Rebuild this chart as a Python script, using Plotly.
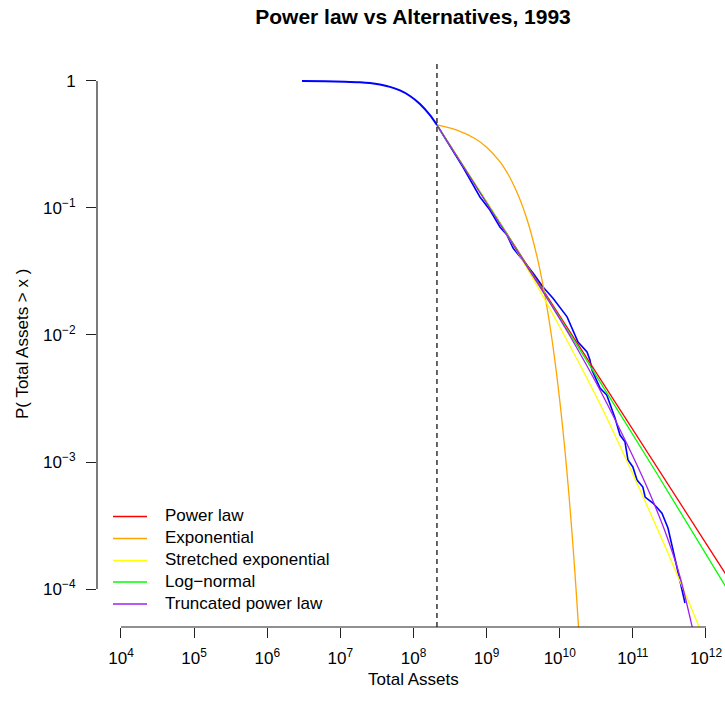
import plotly.graph_objects as go

# ---- empirical CCDF of total assets (body below x_min, tail above) ----
body_assets = [2.99e6, 6.17e6, 1.157e7, 1.855e7, 2.54e7, 3.48e7, 4.77e7, 6.54e7, 8.96e7, 1.227e8, 1.682e8, 2.094e8]
body_prob = [1.0, 0.9946, 0.9874, 0.9767, 0.9626, 0.9368, 0.8987, 0.8417, 0.7618, 0.6590, 0.5378, 0.4502]

tail_assets = [2.094e8, 4.75e8, 8.11e8, 1.11e9, 1.52e9, 1.90e9, 2.30e9, 3.14e9, 4.31e9, 5.90e9,
               8.09e9, 1.26e10, 1.78e10, 2.36e10, 2.59e10, 2.76e10, 3.03e10, 3.55e10, 4.39e10,
               5.70e10, 6.67e10, 7.80e10, 8.57e10, 1.00e11, 1.14e11, 1.37e11, 1.47e11, 1.88e11,
               2.50e11, 3.02e11, 3.54e11, 4.41e11, 5.16e11]
tail_prob = [0.4502, 0.210, 0.122, 0.0964, 0.0708, 0.0612, 0.0484, 0.0390, 0.0308, 0.0239,
             0.0195, 0.0139, 0.00881, 0.00735, 0.00635, 0.00530, 0.00467, 0.00383, 0.00337,
             0.00222, 0.00163, 0.00144, 0.00104, 0.000914, 0.000721, 0.000635, 0.000530, 0.000475,
             0.000396, 0.000302, 0.000203, 0.000118, 0.0000776]

x_min = 2.094e8

# ---- fitted tail models ----
power_assets = [2.094e8, 2.0e12]
power_prob = [0.4502, 0.000123]

expo_assets = [2.094e8, 4.0e8, 7.0e8, 1.0e9, 1.5e9, 2.0e9, 2.5e9, 3.0e9, 3.5e9, 4.0e9, 5.0e9,
               6.0e9, 7.0e9, 8.0e9, 9.0e9, 1.0e10, 1.1e10, 1.2e10, 1.3e10, 1.4e10, 1.5e10,
               1.6e10, 1.7e10, 1.8e10, 1.9e10]
expo_prob = [0.4502, 0.409, 0.351, 0.301, 0.2335, 0.181, 0.140, 0.1087, 0.0842, 0.0653, 0.0392,
             0.02354, 0.01413, 0.00849, 0.00510, 0.00306, 0.001838, 0.001103, 0.000662, 0.000398,
             0.0002388, 0.0001434, 0.0000861, 0.0000517, 0.0000310]

stretched_assets = [2.094e8, 1.11e9, 3.14e9, 8.09e9, 3.55e10, 1.00e11, 2.93e11, 8.28e11, 9.77e11]
stretched_prob = [0.4502, 0.102, 0.0381, 0.0145, 0.00286, 0.000804, 0.000200, 0.0000486, 0.0000387]

lognormal_assets = [2.094e8, 2.0e9, 2.0e10, 2.0e11, 2.0e12]
lognormal_prob = [0.4502, 0.0592, 0.00726, 0.000861, 0.0000977]

trunc_assets = [2.094e8, 1.52e9, 5.37e9, 1.38e10, 3.55e10, 1.00e11, 1.71e11, 2.93e11, 4.41e11, 6.44e11, 7.0e11]
trunc_prob = [0.4502, 0.0748, 0.0239, 0.00982, 0.00369, 0.00111, 0.000562, 0.000258, 0.000125, 0.0000511, 0.0000410]

legend_labels = ["Power law", "Exponential", "Stretched exponential", "Log\u2212normal", "Truncated power law"]
legend_colors = ["#FF0000", "#FFA500", "#FFFF00", "#00FF00", "#A020F0"]

x_tick_vals = [1e4, 1e5, 1e6, 1e7, 1e8, 1e9, 1e10, 1e11, 1e12]
x_tick_text = ["10<sup>%d</sup>" % k for k in range(4, 13)]
y_tick_vals = [1, 1e-1, 1e-2, 1e-3, 1e-4]
y_tick_text = ["1", "10<sup>\u22121</sup>", "10<sup>\u22122</sup>", "10<sup>\u22123</sup>", "10<sup>\u22124</sup>"]

# ---- page geometry ----
W, H = 725, 715
ML, MR, MT, MB = 97, 0, 60, 88
PW, PH = W - ML - MR, H - MT - MB
FONT = "Liberation Sans, Arial, Helvetica, sans-serif"
FS = 17


def px_x(px):
    return (px - ML) / PW


def px_y(py):
    return (H - MB - py) / PH


fig = go.Figure()

fig.add_trace(go.Scatter(x=body_assets, y=body_prob, mode="lines",
                         line=dict(color="#0000FF", width=2, shape="spline", smoothing=0.6),
                         showlegend=False))
fig.add_trace(go.Scatter(x=tail_assets, y=tail_prob, mode="lines",
                         line=dict(color="#0000FF", width=1.6), showlegend=False))

model_series = [
    (power_assets, power_prob, "linear"),
    (expo_assets, expo_prob, "spline"),
    (stretched_assets, stretched_prob, "spline"),
    (lognormal_assets, lognormal_prob, "spline"),
    (trunc_assets, trunc_prob, "spline"),
]
for (xs, ys, shape), name, col in zip(model_series, legend_labels, legend_colors):
    fig.add_trace(go.Scatter(x=xs, y=ys, mode="lines", name=name,
                             line=dict(color=col, width=1.3, shape=shape, smoothing=0.6),
                             showlegend=False))

shapes = []
# vertical dashed line at x_min
shapes.append(dict(type="line", xref="x", yref="paper", x0=x_min, x1=x_min, y0=0, y1=1,
                   line=dict(color="black", width=1.2, dash="5px,4px")))
# axis lines spanning first to last tick
shapes.append(dict(type="line", xref="x", yref="paper", x0=x_tick_vals[0], x1=x_tick_vals[-1],
                   y0=0, y1=0, line=dict(color="#222222", width=1.2)))
shapes.append(dict(type="line", xref="paper", yref="y", x0=0, x1=0,
                   y0=y_tick_vals[-1], y1=y_tick_vals[0], line=dict(color="#222222", width=1.2)))

annotations = []
# legend drawn as line samples and labels
leg_y = [516.5, 538.5, 560.5, 582, 604]
for lbl, col, ly in zip(legend_labels, legend_colors, leg_y):
    shapes.append(dict(type="line", xref="paper", yref="paper", x0=px_x(113), x1=px_x(147),
                       y0=px_y(ly), y1=px_y(ly), line=dict(color=col, width=1.3)))
    annotations.append(dict(text=lbl, xref="paper", yref="paper", x=px_x(163), y=px_y(ly - 1),
                            xanchor="left", yanchor="middle", showarrow=False,
                            font=dict(family=FONT, size=FS, color="black")))

annotations.append(dict(text="Total Assets", xref="paper", yref="paper", x=px_x(413), y=px_y(679),
                        xanchor="center", yanchor="middle", showarrow=False,
                        font=dict(family=FONT, size=FS, color="black")))
annotations.append(dict(text="P( Total Assets > x )", xref="paper", yref="paper", x=px_x(22),
                        y=px_y(344), xanchor="center", yanchor="middle", textangle=-90,
                        showarrow=False, font=dict(family=FONT, size=FS, color="black")))

fig.update_layout(
    width=W, height=H,
    margin=dict(l=ML, r=MR, t=MT, b=MB, pad=0),
    paper_bgcolor="white", plot_bgcolor="white",
    title=dict(text="<b>Power law vs Alternatives, 1993</b>", xref="paper", x=px_x(413),
               yref="container", y=1 - 17 / H, xanchor="center", yanchor="middle",
               font=dict(family=FONT, size=21, color="black")),
    shapes=shapes, annotations=annotations,
    showlegend=False,
)
fig.update_xaxes(type="log", range=[3.672, 12.26], showgrid=False, zeroline=False, showline=False,
                 tickmode="array", tickvals=x_tick_vals, ticktext=x_tick_text,
                 ticks="outside", ticklen=10, tickwidth=1.2, tickcolor="#222222",
                 ticklabelstandoff=6,
                 tickfont=dict(family=FONT, size=FS, color="black"))
fig.update_yaxes(type="log", range=[-4.299, 0.165], showgrid=False, zeroline=False, showline=False,
                 tickmode="array", tickvals=y_tick_vals, ticktext=y_tick_text,
                 ticks="outside", ticklen=10, tickwidth=1.2, tickcolor="#222222",
                 ticklabelstandoff=7,
                 tickfont=dict(family=FONT, size=FS, color="black"))

fig.write_html("out.html")
